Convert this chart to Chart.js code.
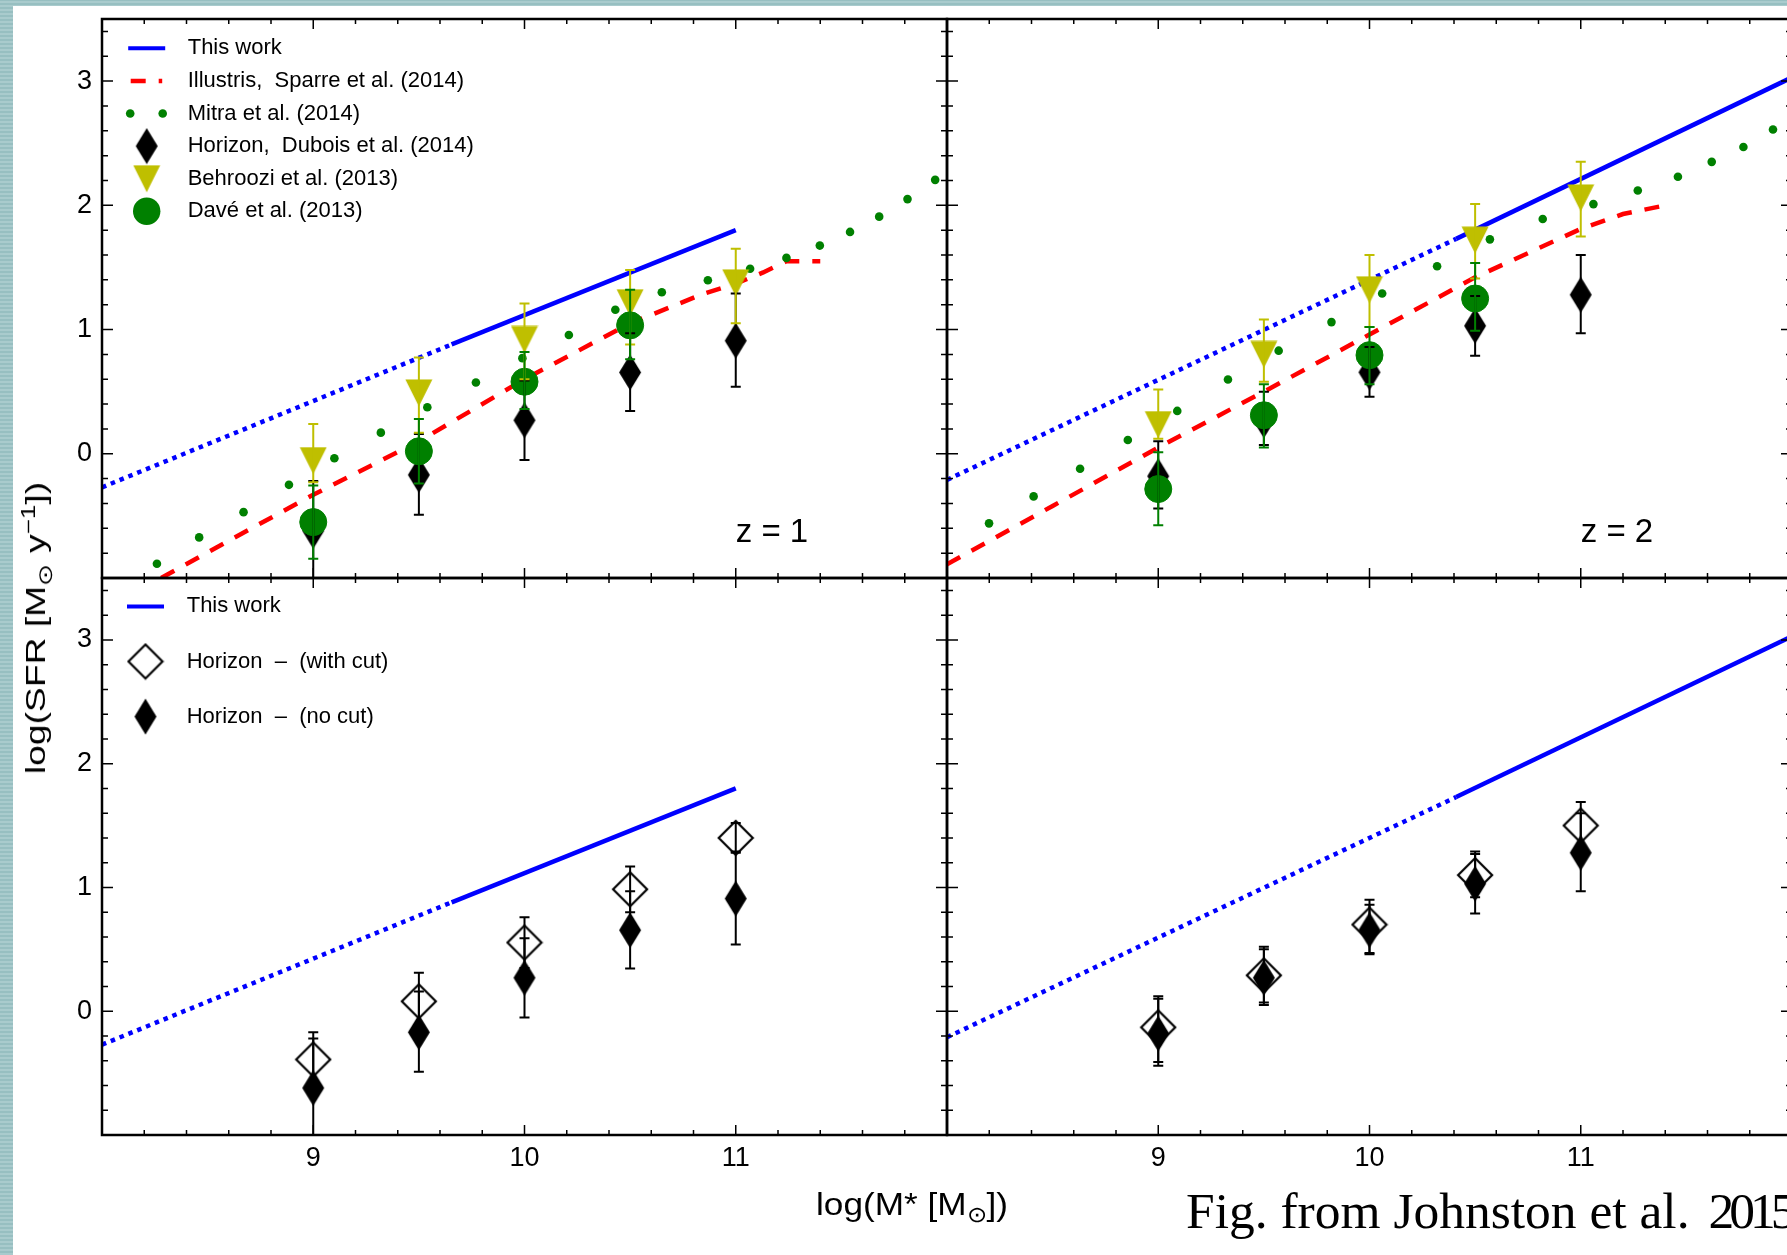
<!DOCTYPE html>
<html>
<head>
<meta charset="utf-8">
<title>SFR vs stellar mass</title>
<script src="https://cdn.jsdelivr.net/npm/chart.js@4.4.1/dist/chart.umd.min.js"></script>
<style>
  html, body { margin: 0; padding: 0; width: 1787px; height: 1255px; overflow: hidden; }
  body {
    position: relative;
    background: repeating-linear-gradient(0deg, #a9cbcd 0px, #a9cbcd 2px, #97bfc1 2px, #97bfc1 4px);
  }
  #sheet { position: absolute; left: 13px; top: 6px; right: -20px; bottom: -20px; background: #fff; }
  canvas { position: absolute; left: 0; top: 0; }
  .txt { position: absolute; white-space: nowrap; color: #000; line-height: 1; font-family: "Liberation Sans", Arial, sans-serif; }
  .txt sub, .txt sup { font-size: 0.7em; line-height: 0; }
  .year { letter-spacing: -5px; margin-left: 6px; }
</style>
</head>
<body>
<div id="sheet"></div>
<canvas id="panelTL" width="1800" height="1255"></canvas>
<canvas id="panelTR" width="1800" height="1255"></canvas>
<canvas id="panelBL" width="1800" height="1255"></canvas>
<canvas id="panelBR" width="1800" height="1255"></canvas>
<div class="txt" id="yTitle" style="left:36px; top:628px; font-size:28px; transform: translate(-50%, -50%) rotate(-90deg) scaleX(1.33);">log(SFR [M<sub>⊙</sub> y<sup>−1</sup>])</div>
<div class="txt" id="xTitle" style="left:816px; top:1188px; font-size:32px; transform-origin: left top; transform: scaleX(1.1);">log(M* [M<sub>⊙</sub>])</div>
<div class="txt" id="caption" style="left:1186px; top:1185px; font-size:51.5px; font-family:'Liberation Serif', 'Times New Roman', serif;">Fig. from Johnston et al. <span class="year">2015</span></div>
<script>
// ---- data ----
const massBins = [9, 9.5, 10, 10.5, 11];
const daveBins = [9, 9.5, 10, 10.5];
const xTickLabels = [9, 10, 11];
const yTickLabels = [0, 1, 2, 3];

// z = 1
const thisWorkZ1X = [8.0, 9.655, 11.0];
const thisWorkZ1Y = [-0.27, 0.88, 1.80];
const illustrisZ1X = [8.28, 8.6, 9.0, 9.5, 10.0, 10.5, 10.85, 11.0, 11.13, 11.24, 11.40];
const illustrisZ1Y = [-1.0, -0.70, -0.33, 0.10, 0.60, 1.05, 1.29, 1.37, 1.46, 1.55, 1.55];
const mitraZ1X = [8.26, 8.46, 8.67, 8.885, 9.10, 9.32, 9.54, 9.77, 9.99, 10.21, 10.43, 10.65, 10.868, 11.068, 11.24, 11.398, 11.541, 11.679, 11.813, 11.944];
const mitraZ1Y = [-0.885, -0.673, -0.47, -0.25, -0.036, 0.17, 0.375, 0.574, 0.77, 0.956, 1.16, 1.30, 1.397, 1.489, 1.577, 1.676, 1.786, 1.909, 2.05, 2.205];
const horizonZ1 = [-0.62, -0.17, 0.27, 0.655, 0.91];
const horizonZ1Lo = [-1.04, -0.49, -0.05, 0.345, 0.54];
const horizonZ1Hi = [-0.22, 0.16, 0.59, 0.97, 1.29];
const horizonCutZ1 = [-0.39, 0.08, 0.555, 0.985, 1.40];
const horizonCutZ1Lo = [-0.61, -0.15, 0.35, 0.80, 1.28];
const horizonCutZ1Hi = [-0.17, 0.31, 0.76, 1.17, 1.52];
const behrooziZ1 = [-0.055, 0.49, 0.92, 1.216, 1.376];
const behrooziZ1Lo = [-0.23, 0.17, 0.60, 0.88, 1.05];
const behrooziZ1Hi = [0.24, 0.775, 1.21, 1.48, 1.65];
const daveZ1 = [-0.55, 0.02, 0.58, 1.034];
const daveZ1Lo = [-0.845, -0.24, 0.36, 0.76];
const daveZ1Hi = [-0.256, 0.28, 0.82, 1.32];

// z = 2
const thisWorkZ2X = [8.0, 10.41, 12.0];
const thisWorkZ2Y = [-0.21, 1.73, 3.03];
const illustrisZ2X = [8.0, 8.5, 9.0, 9.5, 10.0, 10.5, 11.0, 11.2, 11.4];
const illustrisZ2Y = [-0.89, -0.42, 0.05, 0.50, 0.96, 1.42, 1.81, 1.93, 2.0];
const mitraZ2X = [8.199, 8.41, 8.63, 8.856, 9.09, 9.33, 9.57, 9.82, 10.06, 10.32, 10.57, 10.82, 11.06, 11.27, 11.46, 11.62, 11.77, 11.91];
const mitraZ2Y = [-0.56, -0.343, -0.12, 0.111, 0.345, 0.598, 0.83, 1.06, 1.29, 1.51, 1.726, 1.89, 2.01, 2.12, 2.23, 2.35, 2.47, 2.61];
const horizonZ2 = [-0.18, 0.27, 0.656, 1.03, 1.28];
const horizonZ2Lo = [-0.44, 0.07, 0.46, 0.79, 0.97];
const horizonZ2Hi = [0.10, 0.50, 0.86, 1.27, 1.60];
const horizonCutZ2 = [-0.13, 0.29, 0.70, 1.10, 1.50];
const horizonCutZ2Lo = [-0.41, 0.05, 0.47, 0.92, 1.30];
const horizonCutZ2Hi = [0.12, 0.52, 0.90, 1.29, 1.69];
const behrooziZ2 = [0.235, 0.80, 1.32, 1.72, 2.06];
const behrooziZ2Lo = [0.12, 0.58, 1.02, 1.41, 1.75];
const behrooziZ2Hi = [0.517, 1.08, 1.60, 2.01, 2.35];
const daveZ2 = [-0.284, 0.31, 0.794, 1.25];
const daveZ2Lo = [-0.575, 0.05, 0.56, 0.99];
const daveZ2Hi = [0.013, 0.56, 1.02, 1.536];

Chart.defaults.font.family = '"Liberation Sans", Arial, sans-serif';
Chart.defaults.color = '#000';

function pts(xs, ys) { return xs.map((x, i) => ({ x: x, y: ys[i] })); }

// marker shapes that Chart.js has no built-in for
function markerCanvas(w, h, paint) {
  const c = document.createElement('canvas');
  c.width = w; c.height = h;
  paint(c.getContext('2d'), w, h);
  return c;
}
const markers = {
  diamond: markerCanvas(24, 37, (g, w, h) => {
    g.fillStyle = '#000';
    g.beginPath(); g.moveTo(w / 2, 0.5); g.lineTo(w - 1, h / 2); g.lineTo(w / 2, h - 0.5); g.lineTo(1, h / 2);
    g.closePath(); g.fill();
  }),
  openDiamond: markerCanvas(38, 38, (g, w, h) => {
    g.strokeStyle = '#000'; g.lineWidth = 2.2;
    g.beginPath(); g.moveTo(w / 2, 2); g.lineTo(w - 2, h / 2); g.lineTo(w / 2, h - 2); g.lineTo(2, h / 2);
    g.closePath(); g.stroke();
  }),
  triangle: markerCanvas(28, 28, (g, w, h) => {
    g.fillStyle = '#bfbf00';
    g.beginPath(); g.moveTo(0.5, 0.5); g.lineTo(w - 0.5, 0.5); g.lineTo(w / 2, h - 0.5);
    g.closePath(); g.fill();
  })
};

function drawHandle(ctx, kind, cx, cy) {
  ctx.save();
  if (kind === 'blue') {
    ctx.strokeStyle = '#0000ff'; ctx.lineWidth = 4;
    ctx.beginPath(); ctx.moveTo(cx - 18.5, cy); ctx.lineTo(cx + 18.5, cy); ctx.stroke();
  } else if (kind === 'red') {
    ctx.strokeStyle = '#ff0000'; ctx.lineWidth = 4.5; ctx.setLineDash([15, 13]);
    ctx.beginPath(); ctx.moveTo(cx - 16, cy); ctx.lineTo(cx + 15.5, cy); ctx.stroke();
  } else if (kind === 'dots') {
    ctx.fillStyle = '#008000';
    [-16.5, 16].forEach(dx => { ctx.beginPath(); ctx.arc(cx + dx, cy, 4.3, 0, Math.PI * 2); ctx.fill(); });
  } else if (kind === 'circle') {
    ctx.fillStyle = '#008000';
    ctx.beginPath(); ctx.arc(cx, cy, 13.7, 0, Math.PI * 2); ctx.fill();
  } else {
    const img = markers[kind];
    ctx.drawImage(img, cx - img.width / 2, cy - img.height / 2);
  }
  ctx.restore();
}

// error bars, panel tag, legend and the framed axes with inward ticks
const panelDecor = {
  id: 'panelDecor',
  afterDatasetsDraw(chart, args, opts) {
    const ctx = chart.ctx, a = chart.chartArea, xs = chart.scales.x, ys = chart.scales.y;
    ctx.save();
    ctx.beginPath();
    ctx.rect(a.left, a.top, a.right - a.left, a.bottom - a.top);
    ctx.clip();
    ctx.lineWidth = 2;
    chart.data.datasets.forEach(ds => {
      if (!ds.errLo) return;
      ctx.strokeStyle = ds.errColor;
      ds.data.forEach((p, i) => {
        const px = xs.getPixelForValue(p.x);
        const lo = ys.getPixelForValue(ds.errLo[i]);
        const hi = ys.getPixelForValue(ds.errHi[i]);
        ctx.beginPath();
        ctx.moveTo(px, lo); ctx.lineTo(px, hi);
        ctx.moveTo(px - 5, lo); ctx.lineTo(px + 5, lo);
        ctx.moveTo(px - 5, hi); ctx.lineTo(px + 5, hi);
        ctx.stroke();
      });
    });
    if (opts.tag) {
      ctx.fillStyle = '#000';
      ctx.font = '33px "Liberation Sans", Arial, sans-serif';
      ctx.textBaseline = 'alphabetic';
      ctx.fillText(opts.tag, xs.getPixelForValue(opts.tagAt[0]), ys.getPixelForValue(opts.tagAt[1]));
    }
    ctx.restore();

    if (opts.legend) {
      ctx.save();
      ctx.font = '22px "Liberation Sans", Arial, sans-serif';
      ctx.textBaseline = 'middle';
      opts.legend.forEach((item, i) => {
        const cy = a.top + opts.legendTop + i * opts.legendGap;
        drawHandle(ctx, item.kind, a.left + opts.handleX, cy);
        ctx.fillStyle = '#000';
        ctx.fillText(item.label, a.left + opts.textX, cy);
      });
      ctx.restore();
    }

    ctx.save();
    ctx.strokeStyle = '#000';
    ctx.lineWidth = 1.5;
    ctx.beginPath();
    for (let k = 0; k <= 20; k++) {
      const px = xs.getPixelForValue(8 + k * 0.2);
      const len = k % 5 === 0 ? 10 : 5;
      ctx.moveTo(px, a.bottom); ctx.lineTo(px, a.bottom - len);
      ctx.moveTo(px, a.top); ctx.lineTo(px, a.top + len);
    }
    for (let k = 0; k <= 22; k++) {
      const py = ys.getPixelForValue(-1 + k * 0.2);
      const len = k % 5 === 0 ? 11 : 6;
      ctx.moveTo(a.left, py); ctx.lineTo(a.left + len, py);
      ctx.moveTo(a.right, py); ctx.lineTo(a.right - len, py);
    }
    ctx.stroke();
    ctx.lineWidth = 2.5;
    ctx.strokeRect(a.left, a.top, a.right - a.left, a.bottom - a.top);
    ctx.restore();
  }
};

function buildPanel(id, p) {
  const datasets = [];
  datasets.push({
    label: 'This work', data: pts(p.workX, p.workY), showLine: true,
    borderColor: '#0000ff', borderWidth: 4.5, pointRadius: 0, order: 6,
    segment: { borderDash: c => (c.p0DataIndex === 0 ? [4.5, 5] : undefined) }
  });
  if (p.illX) datasets.push({
    label: 'Illustris', data: pts(p.illX, p.illY), showLine: true,
    borderColor: '#ff0000', borderWidth: 4.5, borderDash: [15, 13], pointRadius: 0, order: 5
  });
  if (p.mitraX) datasets.push({
    label: 'Mitra', data: pts(p.mitraX, p.mitraY),
    pointRadius: 4.3, pointBorderWidth: 0, backgroundColor: '#008000', borderColor: '#008000', order: 4
  });
  datasets.push({
    label: 'Horizon (no cut)', data: pts(massBins, p.hor), errLo: p.horLo, errHi: p.horHi, errColor: '#000',
    pointStyle: markers.diamond, pointRadius: 18, order: 3
  });
  if (p.cut) datasets.push({
    label: 'Horizon (with cut)', data: pts(massBins, p.cut), errLo: p.cutLo, errHi: p.cutHi, errColor: '#000',
    pointStyle: markers.openDiamond, pointRadius: 18, order: 1
  });
  if (p.beh) datasets.push({
    label: 'Behroozi', data: pts(massBins, p.beh), errLo: p.behLo, errHi: p.behHi, errColor: '#bfbf00',
    pointStyle: markers.triangle, pointRadius: 14, order: 2
  });
  if (p.dave) datasets.push({
    label: 'Dave', data: pts(daveBins, p.dave), errLo: p.daveLo, errHi: p.daveHi, errColor: '#008000',
    pointStyle: 'circle', pointRadius: 13.5, borderWidth: 1, backgroundColor: '#008000', borderColor: '#008000', order: 1
  });

  const xScale = {
    type: 'linear', min: 8, max: 12, display: p.showX,
    grid: { display: false, drawTicks: false }, border: { display: false },
    ticks: { stepSize: 1, padding: 7, maxRotation: 0, autoSkip: false, font: { size: 27 },
      callback: v => (xTickLabels.includes(v) ? String(v) : '') }
  };
  if (p.showX) xScale.afterFit = s => { s.height = 40; s.paddingLeft = 0; s.paddingRight = 0; };
  const yScale = {
    type: 'linear', min: -1, max: 3.5, display: p.showY,
    grid: { display: false, drawTicks: false }, border: { display: false },
    ticks: { stepSize: 1, padding: 10, autoSkip: false, font: { size: 27 },
      callback: v => (yTickLabels.includes(v) ? String(v) : '') }
  };
  if (p.showY) yScale.afterFit = s => { s.width = 102; s.paddingTop = 0; s.paddingBottom = 0; };

  return new Chart(document.getElementById(id), {
    type: 'scatter',
    data: { datasets: datasets },
    options: {
      responsive: false, animation: false, events: [], devicePixelRatio: 1,
      layout: { padding: p.pad, autoPadding: false },
      scales: { x: xScale, y: yScale },
      plugins: { legend: { display: false }, tooltip: { enabled: false }, panelDecor: p.decor }
    },
    plugins: [panelDecor]
  });
}

const topLegend = [
  { kind: 'blue', label: 'This work' },
  { kind: 'red', label: 'Illustris,  Sparre et al. (2014)' },
  { kind: 'dots', label: 'Mitra et al. (2014)' },
  { kind: 'diamond', label: 'Horizon,  Dubois et al. (2014)' },
  { kind: 'triangle', label: 'Behroozi et al. (2013)' },
  { kind: 'circle', label: 'Davé et al. (2013)' }
];
const bottomLegend = [
  { kind: 'blue', label: 'This work' },
  { kind: 'openDiamond', label: 'Horizon  –  (with cut)' },
  { kind: 'diamond', label: 'Horizon  –  (no cut)' }
];

buildPanel('panelTL', {
  workX: thisWorkZ1X, workY: thisWorkZ1Y, illX: illustrisZ1X, illY: illustrisZ1Y,
  mitraX: mitraZ1X, mitraY: mitraZ1Y,
  hor: horizonZ1, horLo: horizonZ1Lo, horHi: horizonZ1Hi,
  beh: behrooziZ1, behLo: behrooziZ1Lo, behHi: behrooziZ1Hi,
  dave: daveZ1, daveLo: daveZ1Lo, daveHi: daveZ1Hi,
  showX: false, showY: true,
  pad: { left: 0, top: 19, right: 853, bottom: 677 },
  decor: { tag: 'z = 1', tagAt: [11.0, -0.71], legend: topLegend, legendTop: 29.3, legendGap: 32.6, handleX: 44.7, textX: 85.7 }
});
buildPanel('panelTR', {
  workX: thisWorkZ2X, workY: thisWorkZ2Y, illX: illustrisZ2X, illY: illustrisZ2Y,
  mitraX: mitraZ2X, mitraY: mitraZ2Y,
  hor: horizonZ2, horLo: horizonZ2Lo, horHi: horizonZ2Hi,
  beh: behrooziZ2, behLo: behrooziZ2Lo, behHi: behrooziZ2Hi,
  dave: daveZ2, daveLo: daveZ2Lo, daveHi: daveZ2Hi,
  showX: false, showY: false,
  pad: { left: 947, top: 19, right: 8, bottom: 677 },
  decor: { tag: 'z = 2', tagAt: [11.0, -0.71] }
});
buildPanel('panelBL', {
  workX: thisWorkZ1X, workY: thisWorkZ1Y,
  hor: horizonZ1, horLo: horizonZ1Lo, horHi: horizonZ1Hi,
  cut: horizonCutZ1, cutLo: horizonCutZ1Lo, cutHi: horizonCutZ1Hi,
  showX: true, showY: true,
  pad: { left: 0, top: 578, right: 853, bottom: 80 },
  decor: { legend: bottomLegend, legendTop: 28.4, legendGap: 55.1, handleX: 43.5, textX: 84.7 }
});
buildPanel('panelBR', {
  workX: thisWorkZ2X, workY: thisWorkZ2Y,
  hor: horizonZ2, horLo: horizonZ2Lo, horHi: horizonZ2Hi,
  cut: horizonCutZ2, cutLo: horizonCutZ2Lo, cutHi: horizonCutZ2Hi,
  showX: true, showY: false,
  pad: { left: 947, top: 578, right: 8, bottom: 80 },
  decor: {}
});
</script>
</body>
</html>
